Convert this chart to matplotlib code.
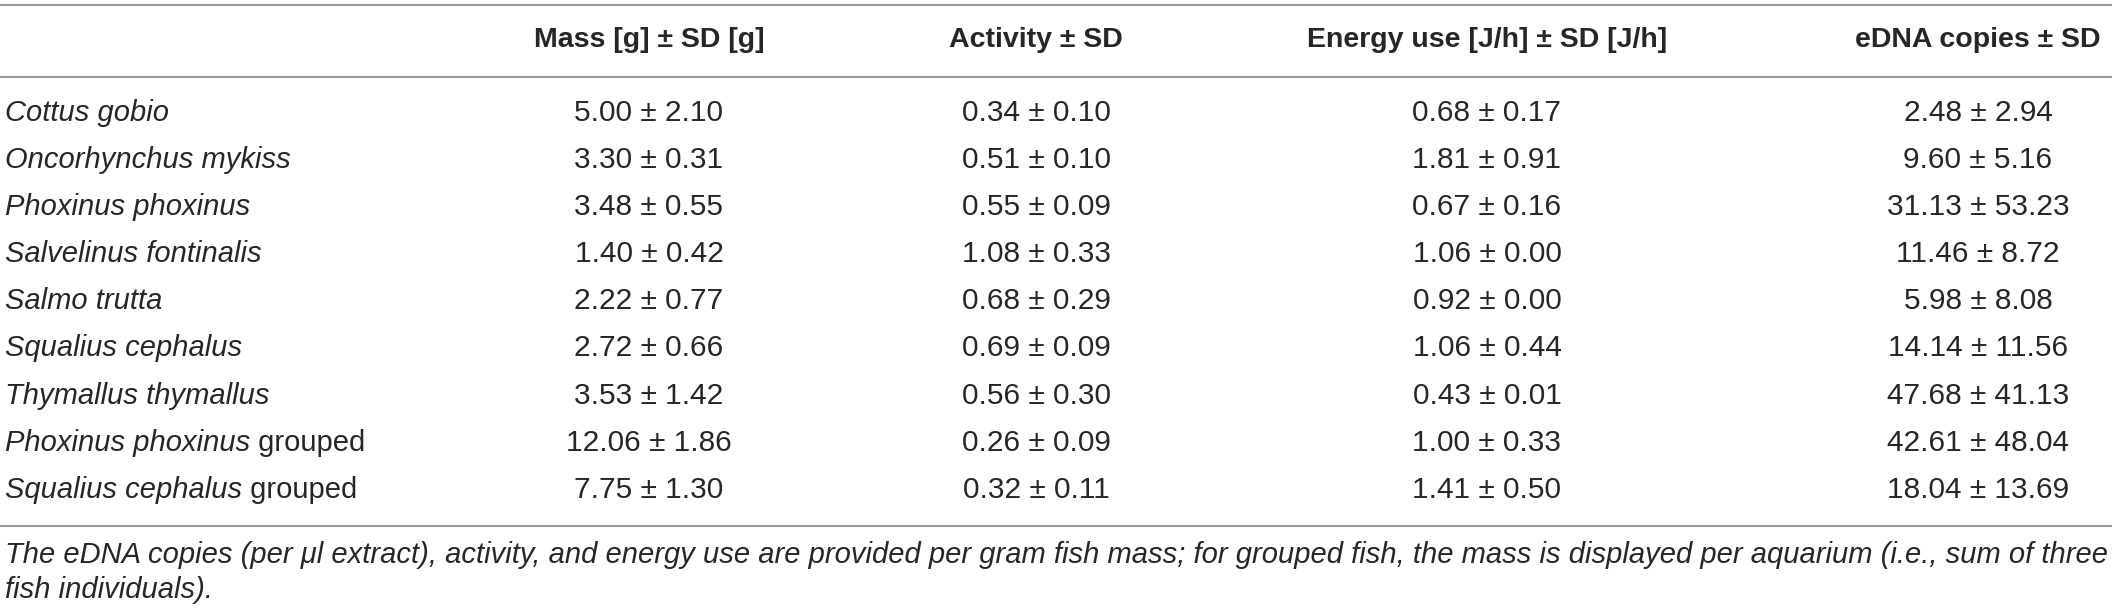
import matplotlib
matplotlib.use('Agg')
import matplotlib.pyplot as plt

# ── table content ──
species = ['Cottus gobio', 'Oncorhynchus mykiss', 'Phoxinus phoxinus',
           'Salvelinus fontinalis', 'Salmo trutta', 'Squalius cephalus',
           'Thymallus thymallus', 'Phoxinus phoxinus', 'Squalius cephalus']
suffix = ['', '', '', '', '', '', '', ' grouped', ' grouped']

headers = ['Mass [g] \u00b1 SD [g]', 'Activity \u00b1 SD',
           'Energy use [J/h] \u00b1 SD [J/h]', 'eDNA copies \u00b1 SD']

mass = [5.00, 3.30, 3.48, 1.40, 2.22, 2.72, 3.53, 12.06, 7.75]
mass_sd = [2.10, 0.31, 0.55, 0.42, 0.77, 0.66, 1.42, 1.86, 1.30]
activity = [0.34, 0.51, 0.55, 1.08, 0.68, 0.69, 0.56, 0.26, 0.32]
activity_sd = [0.10, 0.10, 0.09, 0.33, 0.29, 0.09, 0.30, 0.09, 0.11]
energy = [0.68, 1.81, 0.67, 1.06, 0.92, 1.06, 0.43, 1.00, 1.41]
energy_sd = [0.17, 0.91, 0.16, 0.00, 0.00, 0.44, 0.01, 0.33, 0.50]
edna = [2.48, 9.60, 31.13, 11.46, 5.98, 14.14, 47.68, 42.61, 18.04]
edna_sd = [2.94, 5.16, 53.23, 8.72, 8.08, 11.56, 41.13, 48.04, 13.69]

footnote = ['The eDNA copies (per \u03bcl extract), activity, and energy use are provided '
            'per gram fish mass; for grouped fish, the mass is displayed per aquarium '
            '(i.e., sum of three',
            'fish individuals).']

# ── layout (pixel coordinates) ──
W, H = 2117, 612
col_x = [649, 1036, 1487, 1978]
row_y0, row_dy = 113, 47.1
header_y = 40
rule_y = [5, 77, 526]
foot_y = [555, 590]
left = 5
right = 2112

txt_color = '#262626'
rule_color = '#9b9b9b'
fs_head, fs_val, fs_name = 20.5, 21.5, 21
plt.rcParams['font.family'] = ['Liberation Sans', 'DejaVu Sans']

fig = plt.figure(figsize=(W / 100, H / 100), dpi=100)
ax = fig.add_axes([0, 0, 1, 1])
ax.set_xlim(0, W)
ax.set_ylim(H, 0)
ax.axis('off')

for y in rule_y:
    ax.plot([0, right], [y, y], color=rule_color, lw=1.5, solid_capstyle='butt')

for x, h in zip(col_x, headers):
    ax.text(x, header_y, h, ha='center', va='center', fontsize=fs_head,
            fontweight='bold', color=txt_color)

columns = [(mass, mass_sd), (activity, activity_sd), (energy, energy_sd), (edna, edna_sd)]
for i, (name, suf) in enumerate(zip(species, suffix)):
    y = row_y0 + i * row_dy
    t = ax.text(left, y, name, ha='left', va='center', fontsize=fs_name,
                style='italic', color=txt_color)
    if suf:
        ax.annotate(suf, xy=(1, 0), xycoords=t, ha='left', va='bottom',
                    fontsize=fs_name, color=txt_color)
    for x, (vals, sds) in zip(col_x, columns):
        ax.text(x, y, f'{vals[i]:.2f} \u00b1 {sds[i]:.2f}', ha='center', va='center',
                fontsize=fs_val, color=txt_color)

# fit the first footnote line to the table width, like the reference
renderer = fig.canvas.get_renderer()
probe = ax.text(left, foot_y[0], footnote[0], fontsize=fs_name, style='italic')
wpx = probe.get_window_extent(renderer).width
probe.remove()
foot_fs = fs_name * (right - 6 - left) / wpx
for y, line in zip(foot_y, footnote):
    ax.text(left, y, line, ha='left', va='center', fontsize=foot_fs,
            style='italic', color=txt_color)

fig.savefig('out.png', dpi=100)
